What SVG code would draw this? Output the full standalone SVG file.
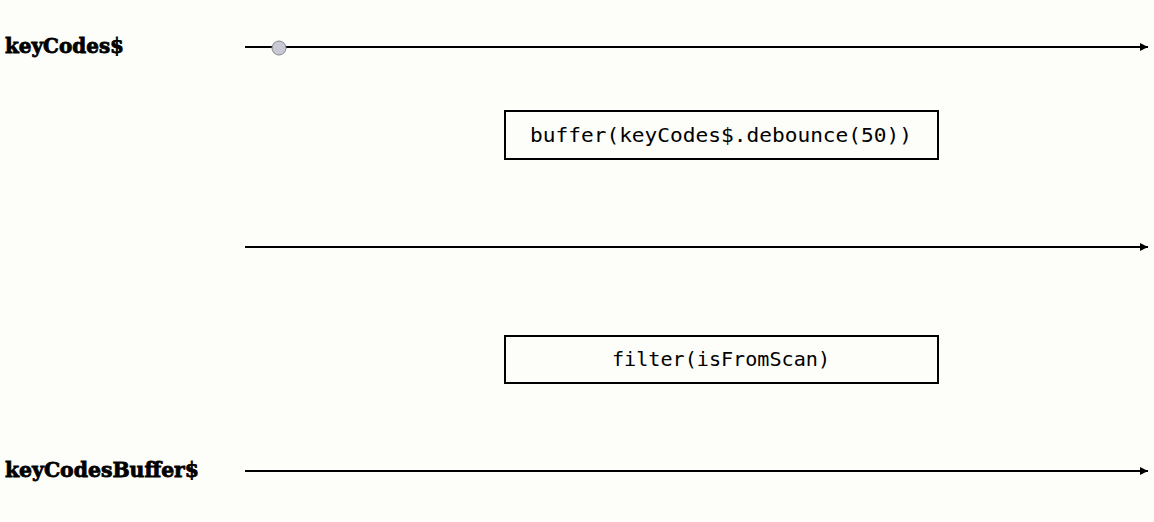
<svg xmlns="http://www.w3.org/2000/svg" width="1154" height="522" viewBox="0 0 1154 522">
<style>
.lbl{font-family:"DejaVu Serif","Liberation Serif",serif;font-weight:bold;font-size:20px;fill:#000;stroke:#000;stroke-width:0.8}
.op{font-family:"DejaVu Sans Mono","Liberation Mono",monospace;font-size:20px;fill:#000}
.box{fill:none;stroke:#000;stroke-width:2}
.line{stroke:#000;stroke-width:2;fill:none}
</style>
<defs>
<marker id="ah" viewBox="0 0 10 10" refX="10" refY="5" markerWidth="8" markerHeight="8" orient="auto" markerUnits="userSpaceOnUse">
<path d="M0,0 L10,5 L0,10 z" fill="#000"/>
</marker>
</defs>
<rect x="0" y="0" width="1154" height="522" fill="#fdfdf9"/>
<g id="connectors">
<line class="line" x1="245" y1="47" x2="1148" y2="47" marker-end="url(#ah)"/>
<line class="line" x1="245" y1="247" x2="1148" y2="247" marker-end="url(#ah)"/>
<line class="line" x1="245" y1="471" x2="1148" y2="471" marker-end="url(#ah)"/>
</g>
<g id="label-keyCodes">
<text class="lbl" x="5" y="53" textLength="119" lengthAdjust="spacingAndGlyphs">keyCodes$</text>
</g>
<g id="label-keyCodesBuffer">
<text class="lbl" x="5" y="477" textLength="194" lengthAdjust="spacingAndGlyphs">keyCodesBuffer$</text>
</g>
<g id="marble">
<circle cx="279" cy="48" r="7" fill="#c9c9d6" stroke="#888" stroke-width="1"/>
</g>
<g id="op-buffer">
<rect class="box" x="505" y="111" width="433" height="48"/>
<text class="op" x="530" y="142" textLength="382" lengthAdjust="spacingAndGlyphs">buffer(keyCodes$.debounce(50))</text>
</g>
<g id="op-filter">
<rect class="box" x="505" y="336" width="433" height="47"/>
<text class="op" x="612" y="366" textLength="218" lengthAdjust="spacingAndGlyphs">filter(isFromScan)</text>
</g>
</svg>
